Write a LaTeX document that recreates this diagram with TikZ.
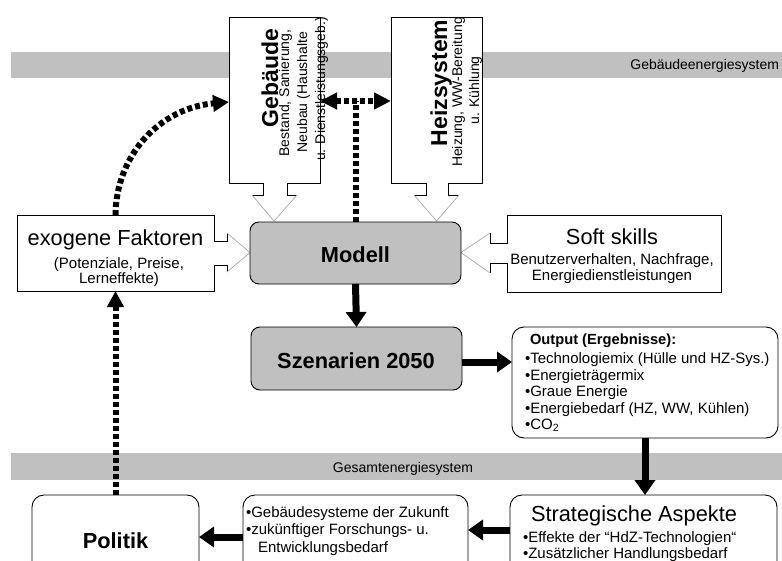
\documentclass[tikz,border=0pt]{standalone}
\usepackage{fontspec}
\setmainfont{Liberation Sans}
\usetikzlibrary{arrows.meta}
\definecolor{bandgray}{HTML}{C0C0C0}
\definecolor{winggray}{HTML}{A8A8A8}
\newcommand\fTitle{\fontsize{21.8}{24}\selectfont}
\newcommand\fRot{\fontsize{23}{25}\selectfont\bfseries}
\newcommand\fText{\fontsize{15}{17}\selectfont}
\newcommand\fRotText{\fontsize{14}{16}\selectfont}
\newcommand\fBand{\fontsize{14}{16}\selectfont}

\begin{document}
\begin{tikzpicture}[x=1pt,y=-1pt,
  outl/.style={draw=black, line width=0.9pt, line join=miter},
  wingline/.style={draw=winggray, line width=0.7pt},
  place/.style={inner sep=0pt, outer sep=0pt, draw=none, anchor=north west},
  roundbox/.style={draw=black, line width=0.9pt, rounded corners=12pt, fill=white,
    inner sep=0pt, outer sep=0pt, anchor=north west},
  graybox/.style={roundbox, fill=bandgray, rounded corners=9pt},
  lbl/.style={inner sep=0pt, outer sep=0pt, anchor=base},
  lblw/.style={inner sep=0pt, outer sep=0pt, anchor=base west},
  fat/.style={line width=7pt, -{Triangle[width=20pt,length=15pt]}},
  dots/.style={line width=6pt, dash pattern=on 5pt off 3pt},
]
\useasboundingbox (0,0) rectangle (782,560);
\clip (0,0) rectangle (782,560);

% system bands
\fill[bandgray] (11,52) rectangle (782,78);
\fill[bandgray] (11,453) rectangle (782,480);
\node[lbl, anchor=base east] (sysA) at (779,69) {\fBand Gebäudeenergiesystem};
\node[lbl] (sysB) at (403,472) {\fBand Gesamtenergiesystem};

% reference frames of the callout boxes
\node[place, minimum width=91pt, minimum height=166pt] (geb) at (229,17) {};
\node[place, minimum width=91pt, minimum height=166pt] (heiz) at (391,17) {};
\node[place, minimum width=197pt, minimum height=76pt] (exo) at (17,215) {};
\node[place, minimum width=214pt, minimum height=77pt] (soft) at (507,215) {};

% callout: Gebaeude
\fill[white] (229,17) -- (320,17) -- (320,183) -- (287,183) -- (287,195) -- (297,195)
  -- (274,221) -- (252,195) -- (263,195) -- (263,183) -- (229,183) -- cycle;
\draw[outl] (297,195) -- (287,195) -- (287,183) -- (320,183) -- (320,17) -- (229,17)
  -- (229,183) -- (263,183) -- (263,195) -- (252,195);
\draw[wingline] (252,195) -- (274,221) -- (297,195);

% callout: Heizsystem
\fill[white] (391,17) -- (482,17) -- (482,183) -- (448,183) -- (448,195) -- (459,195)
  -- (436.5,221) -- (414,195) -- (426,195) -- (426,183) -- (391,183) -- cycle;
\draw[outl] (459,195) -- (448,195) -- (448,183) -- (482,183) -- (482,17) -- (391,17)
  -- (391,183) -- (426,183) -- (426,195) -- (414,195);
\draw[wingline] (414,195) -- (436.5,221) -- (459,195);

% callout: exogene Faktoren
\fill[white] (17,215) -- (214,215) -- (214,241) -- (227,241) -- (227,233) -- (250,252.5)
  -- (227,272) -- (227,265) -- (214,265) -- (214,291) -- (17,291) -- cycle;
\draw[outl] (227,233) -- (227,241) -- (214,241) -- (214,215) -- (17,215) -- (17,291)
  -- (214,291) -- (214,265) -- (227,265) -- (227,272);
\draw[wingline] (227,233) -- (250,252.5) -- (227,272);

% callout: Soft skills
\fill[white] (721,215) -- (507,215) -- (507,243) -- (490,243) -- (490,233) -- (461,252.5)
  -- (490,273) -- (490,263) -- (507,263) -- (507,292) -- (721,292) -- cycle;
\draw[outl] (490,233) -- (490,243) -- (507,243) -- (507,215) -- (721,215) -- (721,292)
  -- (507,292) -- (507,263) -- (490,263) -- (490,273);
\draw[wingline] (490,233) -- (461,252.5) -- (490,273);

% rounded boxes
\node[graybox, minimum width=211pt, minimum height=62pt] (modell) at (250,222) {};
\node[graybox, minimum width=211pt, minimum height=63pt] (szen) at (251,327) {};
\node[roundbox, minimum width=266pt, minimum height=111pt] (out) at (512,327) {};
\node[roundbox, minimum width=267pt, minimum height=105pt] (strat) at (510,495) {};
\node[roundbox, minimum width=225pt, minimum height=105pt] (mid) at (243,495) {};
\node[roundbox, minimum width=167pt, minimum height=105pt] (pol) at (32,495) {};

% texts of the upper boxes
\node[lbl, rotate=90] (gebT) at (278,78) {\fRot Gebäude};
\node[lbl, rotate=90] (gebA) at (289,93) {\fRotText Bestand, Sanierung,};
\node[lbl, rotate=90] (gebB) at (307,92) {\fRotText Neubau (Haushalte};
\node[lbl, rotate=90] (gebC) at (325,89) {\fRotText u. Dienstleistungsgeb.)};
\begin{scope}
  \clip (391,17) rectangle (482,183);
  \node[lbl, rotate=90] (heizT) at (447,83) {\fRot Heizsystem};
  \node[lbl, rotate=90] (heizA) at (462,90) {\fRotText Heizung, WW-Bereitung,};
  \node[lbl, rotate=90] (heizB) at (479,90.5) {\fRotText u. Kühlung};
\end{scope}

\node[lbl] (exoT) at (115.5,245) {\fTitle exogene Faktoren};
\node[lbl] (exoA) at (119,268) {\fText (Potenziale, Preise,};
\node[lbl] (exoB) at (119,283) {\fText Lerneffekte)};

\node[lbl] (softT) at (612,244) {\fTitle Soft skills};
\node[lbl] (softA) at (612,264) {\fText Benutzerverhalten, Nachfrage,};
\node[lbl] (softB) at (612,280) {\fText Energiedienstleistungen};

\node[lbl] (modT) at (355.5,262) {\fTitle\bfseries Modell};
\node[lbl] (szenT) at (356,368) {\fTitle\bfseries Szenarien 2050};

% output list
\node[lblw] (o0) at (530,344) {\fontsize{14.7}{17}\selectfont\bfseries Output (Ergebnisse):};
\node[lblw] (o1) at (525,363) {\fText •Technologiemix (Hülle und HZ-Sys.)};
\node[lblw] (o2) at (525,380) {\fText •Energieträgermix};
\node[lblw] (o3) at (525,396) {\fText •Graue Energie};
\node[lblw] (o4) at (525,413) {\fText •Energiebedarf (HZ, WW, Kühlen)};
\node[lblw] (o5) at (525,429) {\fText •CO\textsubscript{2}};

% lower row
\node[lbl] (stratT) at (634,521) {\fTitle Strategische Aspekte};
\node[lblw] (s1) at (523,542) {\fText •Effekte der “HdZ-Technologien“};
\node[lblw] (s2) at (523,558) {\fText •Zusätzlicher Handlungsbedarf};

\node[lblw] (m1) at (246,517) {\fText •Gebäudesysteme der Zukunft};
\node[lblw] (m2) at (246,534) {\fText •zukünftiger Forschungs- u.};
\node[lblw] (m3) at (258,552) {\fText Entwicklungsbedarf};

\node[lbl] (polT) at (115.5,548) {\fTitle\bfseries Politik};

% helper heights for connectors
\coordinate (hA) at (0,101);
\coordinate (hB) at (0,102);
\coordinate (hC) at (0,362);
\coordinate (hD) at (0,530);
\coordinate (hE) at (0,537);

% solid flow
\draw[fat] (modell.south) -- (szen.north);
\draw[fat] (szen.east |- hC) -- (out.west |- hC);
\draw[fat] (out.south) -- (out.south |- strat.north);
\draw[fat] (strat.west |- hD) -- (mid.east |- hD);
\draw[fat] (mid.west |- hE) -- (pol.east |- hE);

% dotted feedback links
\draw[dots, -{Triangle[width=16pt,length=16pt]}] (pol.north) -- (exo.south);
\draw[dots, -{Triangle[width=16pt,length=16pt]}] (exo.north)
  .. controls (116,155) and (160,108) .. (geb.west |- hB);
\draw[dots] (modell.north) -- (modell.north |- hA);
\draw[dots, {Triangle[width=16pt,length=17pt]}-{Triangle[width=16pt,length=17pt]}]
  (geb.east |- hA) -- (heiz.west |- hA);
\end{tikzpicture}
\end{document}
